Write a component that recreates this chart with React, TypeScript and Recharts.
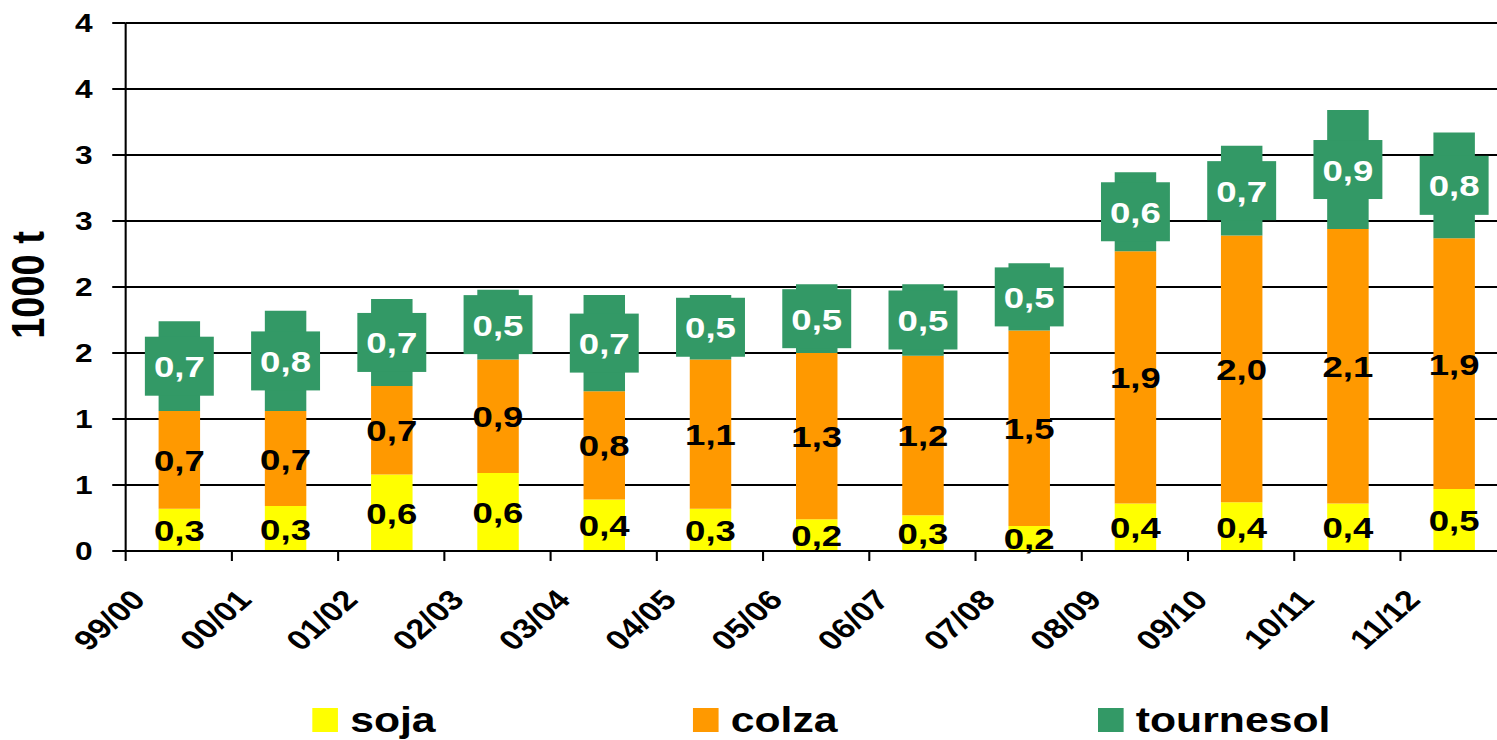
import { BarChart, Bar, XAxis, YAxis, CartesianGrid, Legend, LabelList } from 'recharts'

const categories = ['99/00', '00/01', '01/02', '02/03', '03/04', '04/05', '05/06', '06/07', '07/08', '08/09', '09/10', '10/11', '11/12']
const soja = [0.32, 0.34, 0.58, 0.59, 0.39, 0.32, 0.24, 0.27, 0.19, 0.36, 0.37, 0.36, 0.47]
const colza = [0.74, 0.72, 0.67, 0.86, 0.82, 1.13, 1.26, 1.21, 1.48, 1.91, 2.02, 2.08, 1.9]
const tournesol = [0.68, 0.76, 0.66, 0.53, 0.73, 0.49, 0.52, 0.54, 0.51, 0.6, 0.68, 0.9, 0.8]
const seriesNames = ['soja', 'colza', 'tournesol']
const yTicks = [0, 0.5, 1, 1.5, 2, 2.5, 3, 3.5, 4]

const data = categories.map((name, i) => ({
  name,
  soja: soja[i],
  colza: colza[i],
  tournesol: tournesol[i]
}))

const FONT = '"Liberation Sans", Arial, sans-serif'
const YELLOW = '#FFFF00'
const ORANGE = '#FF9900'
const GREEN = '#339966'

// the original picture is stretched sideways, so the whole chart is drawn narrower and scaled
const STRETCH = 1.22
const W = 1240
const H = 740
const MARGIN = { top: 23, right: 5, left: 0, bottom: 0 }
const Y_WIDTH = 103
const BAND = (W - Y_WIDTH - MARGIN.left - MARGIN.right) / categories.length

const fmt = (v: number) => v.toFixed(1).replace('.', ',')

const box = (props: any) => {
  const vb = props.viewBox ?? props
  return { cx: vb.x + vb.width / 2, cy: vb.y + vb.height / 2 }
}

const DarkLabel = (props: any) => {
  const { cx, cy } = box(props)
  return (
    <text x={cx} y={cy + 11} textAnchor="middle" fontSize={30} fontWeight="bold" fontFamily={FONT} fill="#000">
      {fmt(Number(props.value))}
    </text>
  )
}

const GreenLabel = (props: any) => {
  const { cx, cy } = box(props)
  return (
    <g>
      <rect x={cx - 28.25} y={cy - 29.5} width={56.5} height={59} fill={GREEN} />
      <text x={cx} y={cy + 11} textAnchor="middle" fontSize={30} fontWeight="bold" fontFamily={FONT} fill="#fff">
        {fmt(Number(props.value))}
      </text>
    </g>
  )
}

const XTick = (props: any) => {
  const { x, y, payload } = props
  const left = x - BAND / 2
  const tx = x - 26
  const ty = y + 50
  return (
    <g>
      <line x1={left} y1={y} x2={left} y2={y + 10} stroke="#000" strokeWidth={1.7} />
      <text
        x={tx}
        y={ty}
        transform={`rotate(-47 ${tx} ${ty})`}
        textAnchor="end"
        fontSize={28}
        fontWeight="bold"
        fontFamily={FONT}
        fill="#000"
      >
        {payload.value}
      </text>
    </g>
  )
}

const YTitle = (props: any) => {
  const vb = props.viewBox
  const cx = 23
  const cy = vb.y + vb.height / 2 - 2
  return (
    <text
      x={cx}
      y={cy}
      transform={`rotate(-90 ${cx} ${cy})`}
      textAnchor="middle"
      dominantBaseline="central"
      fontSize={38}
      fontWeight="bold"
      fontFamily={FONT}
      fill="#000"
    >
      1000 t
    </text>
  )
}

// legend items sit at uneven spots in the original
const legendLeft = [256, 568, 900]

const LegendContent = (props: any) => {
  const items = [...(props.payload || [])].sort(
    (a: any, b: any) => seriesNames.indexOf(a.value) - seriesNames.indexOf(b.value)
  )
  return (
    <div style={{ position: 'relative', width: W, height: 40 }}>
      {items.map((item: any, i: number) => (
        <div
          key={item.value}
          style={{ position: 'absolute', left: legendLeft[i], top: 0, height: 40, display: 'flex', alignItems: 'center' }}
        >
          <div style={{ width: 21, height: 24, background: item.color, marginRight: 10 }} />
          <span style={{ fontFamily: FONT, fontWeight: 'bold', fontSize: 35, color: '#000', lineHeight: '40px' }}>
            {item.value}
          </span>
        </div>
      ))}
    </div>
  )
}

export default function App() {
  return (
    <div style={{ position: 'absolute', left: 0, top: 0, width: 1497, height: 740, overflow: 'hidden', background: '#fff' }}>
      <div style={{ width: W, height: H, transform: `scaleX(${STRETCH})`, transformOrigin: '0 0' }}>
        <BarChart width={W} height={H} data={data} margin={MARGIN} barSize={34}>
          <CartesianGrid vertical={false} stroke="#000" strokeWidth={2} />
          <XAxis
            dataKey="name"
            height={149}
            interval={0}
            tickLine={false}
            tickSize={0}
            tickMargin={0}
            axisLine={{ stroke: '#000', strokeWidth: 2 }}
            tick={<XTick />}
          />
          <YAxis
            width={Y_WIDTH}
            domain={[0, 4]}
            ticks={yTicks}
            interval={0}
            tickFormatter={(v: number) => String(Math.round(v))}
            tickSize={11}
            tickMargin={16}
            axisLine={{ stroke: '#000', strokeWidth: 1.7 }}
            tickLine={{ stroke: '#000', strokeWidth: 2 }}
            tick={{ fontSize: 26, fontWeight: 'bold', fontFamily: FONT, fill: '#000' }}
            label={<YTitle />}
          />
          <Legend
            verticalAlign="bottom"
            height={40}
            wrapperStyle={{ left: 0, bottom: 0, width: W, height: 40 }}
            content={<LegendContent />}
          />
          <Bar dataKey="soja" name="soja" stackId="a" fill={YELLOW} isAnimationActive={false}>
            <LabelList dataKey="soja" content={<DarkLabel />} />
          </Bar>
          <Bar dataKey="colza" name="colza" stackId="a" fill={ORANGE} isAnimationActive={false}>
            <LabelList dataKey="colza" content={<DarkLabel />} />
          </Bar>
          <Bar dataKey="tournesol" name="tournesol" stackId="a" fill={GREEN} isAnimationActive={false}>
            <LabelList dataKey="tournesol" content={<GreenLabel />} />
          </Bar>
        </BarChart>
      </div>
    </div>
  )
}
